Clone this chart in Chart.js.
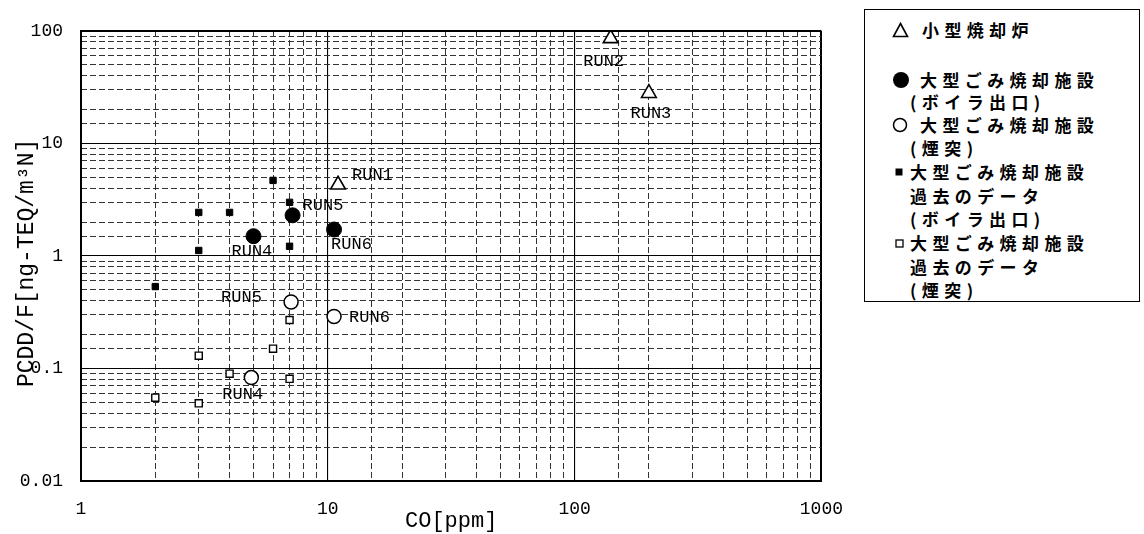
<!DOCTYPE html>
<html><head><meta charset="utf-8">
<script src="https://cdn.jsdelivr.net/npm/chart.js@4.4.0/dist/chart.umd.min.js"></script>
<style>
html,body{margin:0;padding:0;background:#fff;width:1144px;height:534px;overflow:hidden;}
#wrap{position:absolute;left:0;top:0;width:860px;height:534px;}
#box{position:absolute;left:864px;top:9px;width:276px;height:293px;border:1.5px solid #000;box-sizing:border-box;}
.ln{position:absolute;white-space:nowrap;letter-spacing:5.4px;line-height:20px;height:20px;font-family:"Noto Sans CJK JP";font-weight:bold;font-size:17px;color:#000;}
.mk{position:absolute;}
</style></head>
<body>
<div id="wrap"><canvas id="c"></canvas></div>
<div id="box"></div>
<svg class="mk" style="left:892px;top:22px" width="17" height="16"><polygon points="8.5,1.5 15.5,14.5 1.5,14.5" fill="#fff" stroke="#000" stroke-width="1.6"/></svg>
<div class="ln" style="left:922px;top:20px">小型焼却炉</div>
<svg class="mk" style="left:892px;top:71px" width="18" height="18"><circle cx="9" cy="9" r="8" fill="#000"/></svg>
<div class="ln" style="left:920px;top:70px">大型ごみ焼却施設</div>
<div class="ln" style="left:910px;top:92px">(ボイラ出口)</div>
<svg class="mk" style="left:892px;top:117px" width="16" height="16"><circle cx="8" cy="8" r="6.5" fill="#fff" stroke="#000" stroke-width="1.5"/></svg>
<div class="ln" style="left:920px;top:115px">大型ごみ焼却施設</div>
<div class="ln" style="left:910px;top:138px">(煙突)</div>
<svg class="mk" style="left:895px;top:168px" width="8" height="8"><rect x="0.5" y="0.5" width="7" height="7" fill="#000"/></svg>
<div class="ln" style="left:910px;top:162px">大型ごみ焼却施設</div>
<div class="ln" style="left:910px;top:186px">過去のデータ</div>
<div class="ln" style="left:910px;top:209px">(ボイラ出口)</div>
<svg class="mk" style="left:895px;top:239px" width="9" height="9"><rect x="1" y="1" width="7" height="7" fill="#fff" stroke="#000" stroke-width="1.3"/></svg>
<div class="ln" style="left:910px;top:233px">大型ごみ焼却施設</div>
<div class="ln" style="left:910px;top:257px">過去のデータ</div>
<div class="ln" style="left:910px;top:280px">(煙突)</div>
<script>
// ---- data ----
const smallFurnaceCO = [11, 140, 200];
const smallFurnacePCDD = [4.3, 86, 28];
const smallFurnaceRuns = ['RUN1', 'RUN2', 'RUN3'];
const boilerCO = [5, 7.2, 10.6];
const boilerPCDD = [1.5, 2.3, 1.72];
const boilerRuns = ['RUN4', 'RUN5', 'RUN6'];
const stackCO = [4.9, 7.1, 10.6];
const stackPCDD = [0.083, 0.39, 0.29];
const stackRuns = ['RUN4', 'RUN5', 'RUN6'];
const pastBoilerCO = [2, 3, 3, 4, 6, 7, 7];
const pastBoilerPCDD = [0.535, 1.12, 2.44, 2.44, 4.7, 3.0, 1.22];
const pastStackCO = [2, 3, 3, 4, 6, 7, 7];
const pastStackPCDD = [0.055, 0.049, 0.13, 0.09, 0.15, 0.27, 0.081];
const xTickLabels = ['1', '10', '100', '1000'];
const yTickLabels = ['0.01', '0.1', '1', '10', '100'];
const xTitle = 'CO[ppm]';
const yTitle = 'PCDD/F[ng-TEQ/m³N] ';

// ---- styles (label offsets relative to points) ----
const smallOffsets = [[14, -9, 'left'], [-7, 23, 'center'], [2, 20, 'center']];
const boilerOffsets = [[-22, 15, 'left'], [10, -10, 'left'], [-3, 15, 'left']];
const stackOffsets = [[-29, 17, 'left'], [-70, -5, 'left'], [15, 1, 'left']];

const pts = (xs, ys) => xs.map((x, i) => ({x: x, y: ys[i]}));
const isMajor = v => Math.abs(Math.log10(v) - Math.round(Math.log10(v))) < 1e-6;
const edge = (c) => { const t = c.scale.ticks; return (c.index === 0 || c.index === t.length - 1) ? 2 : 1.1; };

const runLabels = {
  id: 'runLabels',
  afterDatasetsDraw(chart) {
    const ctx = chart.ctx;
    ctx.save();
    ctx.font = '17px "Liberation Mono"';
    ctx.fillStyle = '#000';
    ctx.textBaseline = 'middle';
    chart.data.datasets.forEach((ds, di) => {
      if (!ds.runLabels) return;
      chart.getDatasetMeta(di).data.forEach((p, i) => {
        const o = ds.runOffsets[i];
        ctx.textAlign = o[2];
        ctx.fillText(ds.runLabels[i], p.x + o[0], p.y + o[1]);
      });
    });
    ctx.restore();
  }
};

const tickFont = {family: 'Liberation Mono', size: 18};

new Chart(document.getElementById('c'), {
  type: 'scatter',
  data: {
    datasets: [
      {label: '小型焼却炉', data: pts(smallFurnaceCO, smallFurnacePCDD), runLabels: smallFurnaceRuns, runOffsets: smallOffsets,
       pointStyle: 'triangle', pointRadius: 8.5, pointHoverRadius: 8.5, backgroundColor: '#fff', borderColor: '#000', borderWidth: 1.6},
      {label: '大型ごみ焼却施設(ボイラ出口)', data: pts(boilerCO, boilerPCDD), runLabels: boilerRuns, runOffsets: boilerOffsets,
       pointStyle: 'circle', pointRadius: 7.5, pointHoverRadius: 7.5, backgroundColor: '#000', borderColor: '#000', borderWidth: 1},
      {label: '大型ごみ焼却施設(煙突)', data: pts(stackCO, stackPCDD), runLabels: stackRuns, runOffsets: stackOffsets,
       pointStyle: 'circle', pointRadius: 7, pointHoverRadius: 7, backgroundColor: '#fff', borderColor: '#000', borderWidth: 1.5},
      {label: '大型ごみ焼却施設過去のデータ(ボイラ出口)', data: pts(pastBoilerCO, pastBoilerPCDD),
       pointStyle: 'rect', pointRadius: 4.5, pointHoverRadius: 4.5, backgroundColor: '#000', borderColor: '#000', borderWidth: 1},
      {label: '大型ごみ焼却施設過去のデータ(煙突)', data: pts(pastStackCO, pastStackPCDD),
       pointStyle: 'rect', pointRadius: 5, pointHoverRadius: 5, backgroundColor: '#fff', borderColor: '#000', borderWidth: 1.4}
    ]
  },
  options: {
    responsive: true, maintainAspectRatio: false, animation: false,
    layout: {padding: {left: 0, top: 31, right: 27, bottom: 0}},
    plugins: {legend: {display: false}, tooltip: {enabled: false}},
    scales: {
      x: {
        type: 'logarithmic', min: 1, max: 1000, position: 'bottom',
        afterFit: s => { s.height = 53; },
        border: {display: true, color: '#000', width: 2},
        grid: {drawTicks: false, color: c => isMajor(c.tick.value) ? '#000' : 'rgba(0,0,0,0)', lineWidth: edge},
        ticks: {autoSkip: false, maxRotation: 0, padding: 17, font: tickFont, color: '#000',
          callback: v => isMajor(v) ? xTickLabels[Math.round(Math.log10(v))] : ''},
        title: {display: true, text: xTitle, color: '#000', font: {family: 'Liberation Mono', size: 22}, padding: {top: 0, bottom: 0}}
      },
      x2: {
        type: 'logarithmic', min: 1, max: 1000, position: 'bottom',
        afterFit: s => { s.height = 0; },
        border: {display: false, dash: [6, 3]},
        grid: {drawTicks: false, color: c => isMajor(c.tick.value) ? 'rgba(0,0,0,0)' : '#333', lineWidth: 1},
        ticks: {display: false, autoSkip: false}
      },
      y: {
        type: 'logarithmic', min: 0.01, max: 100, position: 'left',
        afterFit: s => { s.width = 81; },
        border: {display: true, color: '#000', width: 2},
        grid: {drawTicks: false, color: c => isMajor(c.tick.value) ? '#000' : 'rgba(0,0,0,0)', lineWidth: edge},
        ticks: {autoSkip: false, padding: 18, font: tickFont, color: '#000',
          callback: v => isMajor(v) ? yTickLabels[Math.round(Math.log10(v)) + 2] : ''},
        title: {display: true, text: yTitle, color: '#000', font: {family: 'Liberation Mono', size: 23}, padding: {top: 13, bottom: 0}}
      },
      y2: {
        type: 'logarithmic', min: 0.01, max: 100, position: 'left',
        afterFit: s => { s.width = 0; },
        border: {display: false, dash: [6, 3]},
        grid: {drawTicks: false, color: c => isMajor(c.tick.value) ? 'rgba(0,0,0,0)' : '#333', lineWidth: 1},
        ticks: {display: false, autoSkip: false}
      }
    }
  },
  plugins: [runLabels]
});
</script>
</body></html>
